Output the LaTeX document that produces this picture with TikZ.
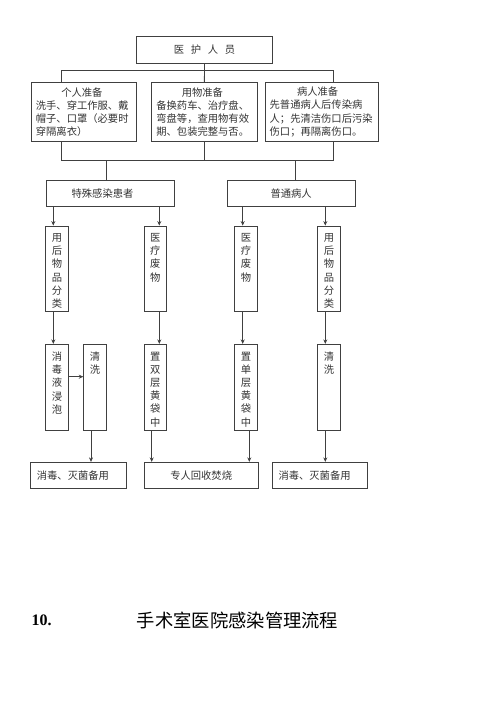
\documentclass[tikz,border=0pt]{standalone}
\usepackage{fontspec}
\setmainfont{Liberation Serif}
\newfontfamily\cjk{Noto Sans CJK SC}
\usetikzlibrary{arrows.meta,calc}
\newcommand\vcol[1]{\parbox[t][85.7pt][t]{14pt}{\centering\vspace*{7.5pt}#1}}
\begin{document}
\begin{tikzpicture}[x=1pt,y=-1pt,
  box/.style={draw=black!75, line width=0.8pt, inner sep=0pt, font=\cjk\fontsize{10.3}{13.2}\selectfont, text=black!80},
  vbox/.style={box, minimum width=22.6pt, minimum height=85.7pt},
  ln/.style={draw=black!75, line width=0.8pt},
  arr/.style={ln, -{Stealth[length=4.5pt,width=4pt]}}]
\fill[white] (0,0) rectangle (500,707);
\useasboundingbox (0,0) rectangle (500,707);

% top
\node[box, minimum width=135.6pt, minimum height=26.6pt] (top) at (204.5,50) {医\hspace{0.65em}护\hspace{0.65em}人\hspace{0.65em}员};

% preparation boxes
\node[box, minimum width=105.7pt, minimum height=59.4pt, text width=96pt, align=left] (b1) at (83.85,112)
  {\makebox[92pt]{个人准备}\\洗手、穿工作服、戴\\帽子、口罩（必要时\\穿隔离衣）};
\node[box, minimum width=106.7pt, minimum height=59.4pt, text width=96pt, align=left] (b2) at (204.35,112)
  {\makebox[92pt]{用物准备}\\备换药车、治疗盘、\\弯盘等，查用物有效\\期、包装完整与否。};
\node[box, minimum width=113.3pt, minimum height=59.4pt, text width=104pt, align=left] (b3) at (321.65,112)
  {\makebox[96pt]{病人准备}\\先普通病人后传染病\\人；先清洁伤口后污染\\伤口；再隔离伤口。};

% patient types
\node[box, minimum width=128pt, minimum height=26.7pt] (sp) at (110,193.35) {\hspace*{-15pt}特殊感染患者};
\node[box, minimum width=127.7pt, minimum height=26.7pt] (pt) at (291.15,193.35) {普通病人};

% row 1
\node[vbox] (v1) at (57,268.85) {\vcol{用\\后\\物\\品\\分\\类}};
\node[vbox] (v2) at (155.35,268.85) {\vcol{医\\疗\\废\\物}};
\node[vbox] (v3) at (246,268.85) {\vcol{医\\疗\\废\\物}};
\node[vbox] (v4) at (329,268.85) {\vcol{用\\后\\物\\品\\分\\类}};

% row 2
\node[vbox] (r1) at (57,387.15) {\vcol{消\\毒\\液\\浸\\泡}};
\node[vbox] (r2) at (95,387.15) {\vcol{清\\洗}};
\node[vbox] (r3) at (155.35,387.15) {\vcol{置\\双\\层\\黄\\袋\\中}};
\node[vbox] (r4) at (246,387.15) {\vcol{置\\单\\层\\黄\\袋\\中}};
\node[vbox] (r5) at (329,387.15) {\vcol{清\\洗}};

% row 3
\node[box, minimum width=95.3pt, minimum height=26pt, text width=83pt, align=left] (f1) at (78.35,475.3) {消毒、灭菌备用};
\node[box, minimum width=114.3pt, minimum height=26pt] (f2) at (201.15,475.3) {专人回收焚烧};
\node[box, minimum width=95.4pt, minimum height=26pt, text width=83pt, align=left] (f3) at (320,475.3) {消毒、灭菌备用};

% bus coordinates
\coordinate (busA) at (61,70);
\coordinate (busB) at (333.3,70);
\coordinate (busC) at (61,160);
\coordinate (busD) at (333.3,160);
\coordinate (xsp) at (106.7,0);
\coordinate (xpt) at (295,0);
\coordinate (xa) at (53.3,0);
\coordinate (xb) at (159.3,0);
\coordinate (xc) at (242.7,0);
\coordinate (xd) at (325.3,0);
\coordinate (xe) at (91,0);
\coordinate (xf) at (151.7,0);
\coordinate (xg) at (249.3,0);

\draw[ln] (top.south) -- (b2.north);
\draw[ln] (busA) -- (busB);
\draw[ln] (busA) -- (b1.north -| busA);
\draw[ln] (busB) -- (b3.north -| busB);
\draw[ln] (b1.south -| busC) -- (busC) -- (busD) -- (b3.south -| busD);
\draw[ln] (b2.south) -- (b2.south |- busC);
\draw[ln] (busC -| xsp) -- (sp.north -| xsp);
\draw[ln] (busC -| xpt) -- (pt.north -| xpt);

\draw[arr] (sp.south -| xa) -- (v1.north -| xa);
\draw[arr] (sp.south -| xb) -- (v2.north -| xb);
\draw[arr] (pt.south -| xc) -- (v3.north -| xc);
\draw[arr] (pt.south -| xd) -- (v4.north -| xd);

\draw[arr] (v1.south -| xa) -- (r1.north -| xa);
\draw[arr] (v2.south -| xb) -- (r3.north -| xb);
\draw[arr] (v3.south -| xc) -- (r4.north -| xc);
\draw[arr] (v4.south -| xd) -- (r5.north -| xd);

\draw[arr] (r1.east |- 0,376.7) -- (r2.west |- 0,376.7);

\draw[arr] (r2.south -| xe) -- (f1.north -| xe);
\draw[arr] (r3.south -| xf) -- (f2.north -| xf);
\draw[arr] (r4.south -| xg) -- (f2.north -| xg);
\draw[arr] (r5.south -| xd) -- (f3.north -| xd);

% title
\node[font=\bfseries\fontsize{16}{16}\selectfont, anchor=west, inner sep=0pt] (num) at (31.5,620) {10.};
\node[font=\cjk\fontsize{18.3}{18.3}\selectfont, anchor=west, inner sep=0pt] (title) at (136.7,620) {手术室医院感染管理流程};
\end{tikzpicture}
\end{document}
